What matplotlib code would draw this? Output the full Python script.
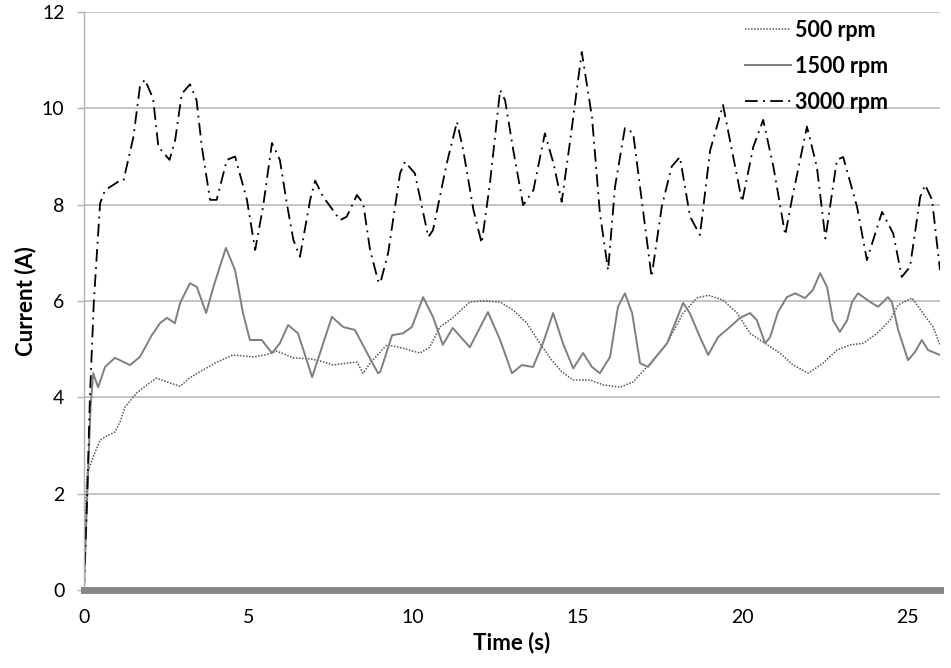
import matplotlib.pyplot as plt

plt.rcParams['font.family'] = ['Lato', 'DejaVu Sans']

# values
t_500 = [0, 0.05, 0.1, 0.3, 0.49, 0.7, 0.94, 1.1, 1.25, 1.6, 1.9, 2.2, 2.6, 2.92, 3.2, 3.52, 4.03, 4.53,
         5.14, 5.5, 5.85, 6.36, 6.87, 7.2, 7.57, 7.98, 8.29, 8.48, 8.69, 9.0, 9.2, 9.69, 10.2, 10.5, 10.81,
         11.2, 11.72, 12.12, 12.64, 13.04, 13.45, 13.85, 14.21, 14.51, 14.86, 15.37, 15.77, 16.28, 16.68,
         17.1, 17.47, 17.71, 18.2, 18.62, 18.96, 19.41, 19.84, 20.23, 20.69, 21.14, 21.54, 22.0, 22.45,
         22.87, 23.27, 23.66, 24.09, 24.48, 24.73, 25.15, 25.48, 25.79, 26.0]
i_500 = [0, 1.8, 2.42, 2.8, 3.11, 3.2, 3.28, 3.5, 3.8, 4.09, 4.25, 4.4, 4.3, 4.23, 4.4, 4.53, 4.73, 4.88,
         4.84, 4.88, 4.96, 4.82, 4.8, 4.75, 4.67, 4.71, 4.73, 4.5, 4.71, 4.94, 5.09, 5.02, 4.92, 5.04, 5.46,
         5.65, 5.98, 6.0, 5.98, 5.81, 5.54, 5.12, 4.77, 4.53, 4.36, 4.36, 4.26, 4.21, 4.32,
         4.63, 4.92, 5.12, 5.75, 6.06, 6.12, 6.02, 5.75, 5.33, 5.12, 4.92, 4.67, 4.5, 4.71,
         4.98, 5.09, 5.12, 5.33, 5.6, 5.92, 6.06, 5.75, 5.46, 5.09]

t_1500 = [0, 0.1, 0.2, 0.28, 0.43, 0.64, 0.94, 1.4, 1.7, 2.06, 2.31, 2.52, 2.76, 2.92, 3.22, 3.43, 3.71,
          3.93, 4.31, 4.59, 4.83, 5.04, 5.4, 5.71, 5.95, 6.2, 6.5, 6.93, 7.17, 7.53, 7.87, 8.23, 8.6, 8.93,
          9.0, 9.36, 9.69, 9.96, 10.3, 10.6, 10.9, 11.2, 11.72, 12.27, 12.64, 13.0, 13.3, 13.64, 13.94,
          14.25, 14.55, 14.86, 15.16, 15.43, 15.67, 15.98, 16.22, 16.43, 16.65, 16.89, 17.13, 17.47,
          17.71, 18.2, 18.4, 18.71, 18.96, 19.26, 19.62, 19.93, 20.23, 20.44, 20.69, 20.84, 21.08, 21.35,
          21.6, 21.9, 22.14, 22.36, 22.57, 22.75, 22.96, 23.18, 23.33, 23.51, 23.88, 24.12, 24.27, 24.42,
          24.54, 24.73, 25.03, 25.24, 25.45, 25.64, 26.0]
i_1500 = [0, 2.0, 3.8, 4.5, 4.21, 4.63, 4.82, 4.67, 4.84, 5.29, 5.54, 5.65, 5.54, 5.96, 6.37, 6.29, 5.75,
          6.29, 7.1, 6.64, 5.75, 5.19, 5.19, 4.92, 5.12, 5.5, 5.33, 4.42, 4.92, 5.67, 5.46, 5.4, 4.92, 4.5,
          4.53, 5.29, 5.33, 5.46, 6.08, 5.67, 5.09, 5.44, 5.04, 5.77, 5.19, 4.5, 4.67, 4.63, 5.12,
          5.75, 5.12, 4.6, 4.92, 4.63, 4.5, 4.84, 5.88, 6.16, 5.75, 4.71, 4.63, 4.92,
          5.12, 5.96, 5.75, 5.25, 4.88, 5.25, 5.46, 5.65, 5.75, 5.6, 5.12, 5.25, 5.77, 6.08,
          6.16, 6.06, 6.23, 6.58, 6.29, 5.6, 5.36, 5.6, 5.98, 6.16, 5.98, 5.88, 5.98, 6.08,
          5.98, 5.4, 4.77, 4.94, 5.19, 4.98, 4.88]

t_3000 = [0, 0.1, 0.18, 0.3, 0.49, 0.64, 1.09, 1.2, 1.5, 1.7, 1.85, 2.1, 2.26, 2.6, 2.77, 2.97, 3.22,
          3.42, 3.58, 3.83, 4.03, 4.34, 4.59, 4.95, 5.2, 5.44, 5.71, 5.95, 6.16, 6.36, 6.56, 6.87, 7.02,
          7.26, 7.78, 7.98, 8.29, 8.48, 8.69, 8.93, 9.0, 9.24, 9.6, 9.75, 10.05, 10.46, 10.6, 11.02, 11.33,
          11.52, 11.83, 12.08, 12.33, 12.64, 12.79, 13.04, 13.34, 13.65, 14.0, 14.26, 14.51, 14.77, 15.12,
          15.43, 15.67, 15.92, 16.13, 16.43, 16.68, 16.94, 17.24, 17.55, 17.85, 18.1, 18.41, 18.71, 19.02,
          19.41, 19.62, 19.99, 20.33, 20.63, 20.94, 21.3, 21.5, 21.96, 22.26, 22.52, 22.87, 23.06, 23.48,
          23.78, 24.24, 24.58, 24.84, 25.09, 25.4, 25.55, 25.76, 26.0]
i_3000 = [0, 2.0, 4.0, 6.0, 8.03, 8.3, 8.5, 8.5, 9.4, 10.45, 10.6, 10.2, 9.2, 8.93, 9.34, 10.3, 10.5,
          10.17, 9.2, 8.1, 8.1, 8.93, 9.0, 8.1, 7.06, 7.96, 9.28, 8.93, 8.03, 7.27, 6.92, 8.1, 8.5,
          8.17, 7.68, 7.75, 8.2, 8.03, 7.06, 6.43, 6.37, 7.0, 8.65, 8.89, 8.65, 7.33, 7.47, 8.86, 9.72,
          9.13, 7.89, 7.2, 8.44, 10.38, 10.17, 9.13, 7.99, 8.3, 9.48, 8.86, 8.06, 9.34, 11.17,
          9.82, 7.83, 6.64, 8.37, 9.59, 9.49, 8.1, 6.5, 7.96, 8.79, 8.99, 7.75, 7.37, 9.13,
          10.07, 9.34, 8.06, 9.2, 9.76, 8.79, 7.37, 8.1, 9.62, 8.79, 7.3, 8.93, 8.99, 7.96,
          6.85, 7.85, 7.4, 6.5, 6.71, 8.16, 8.41, 8.1, 6.64]

fig = plt.figure(figsize=(9.51, 6.68), dpi=100)
ax = fig.add_axes([0.0883, 0.1168, 0.9001, 0.8652])

ax.plot(t_500, i_500, color='#555555', linestyle=(0, (1, 1)), linewidth=1.1, label='500 rpm')
ax.plot(t_1500, i_1500, color='#7f7f7f', linestyle='-', linewidth=1.4, label='1500 rpm')
ax.plot(t_3000, i_3000, color='black', linestyle=(0, (7, 3, 1, 3)), linewidth=1.3, label='3000 rpm')

ax.set_xlim(0, 26)
ax.set_ylim(0, 12)
ax.set_xticks([0, 5, 10, 15, 20, 25])
ax.set_yticks([0, 2, 4, 6, 8, 10, 12])
ax.grid(axis='y', color='#c0c0c0', linewidth=1.3)
ax.set_axisbelow(True)

for s in ['top', 'right']:
    ax.spines[s].set_visible(False)
ax.spines['left'].set_color('#b0b0b0')
ax.spines['left'].set_linewidth(1.0)
ax.spines['bottom'].set_color('#888888')
ax.spines['bottom'].set_linewidth(5)

ax.tick_params(axis='y', length=5, width=1.0, color='#b0b0b0', pad=9, labelsize=14)
ax.tick_params(axis='x', length=0, pad=14, labelsize=14)

ax.set_xlabel('Time (s)', fontsize=16, fontweight='bold', labelpad=4)
ax.set_ylabel('Current (A)', fontsize=16, fontweight='bold', labelpad=4)

leg = ax.legend(loc='upper right', bbox_to_anchor=(0.962, 1.02), frameon=False,
                prop={'weight': 'bold', 'size': 15.5}, handlelength=2.1, handletextpad=0.2,
                labelspacing=0.7)

fig.savefig('out.png', dpi=100)
